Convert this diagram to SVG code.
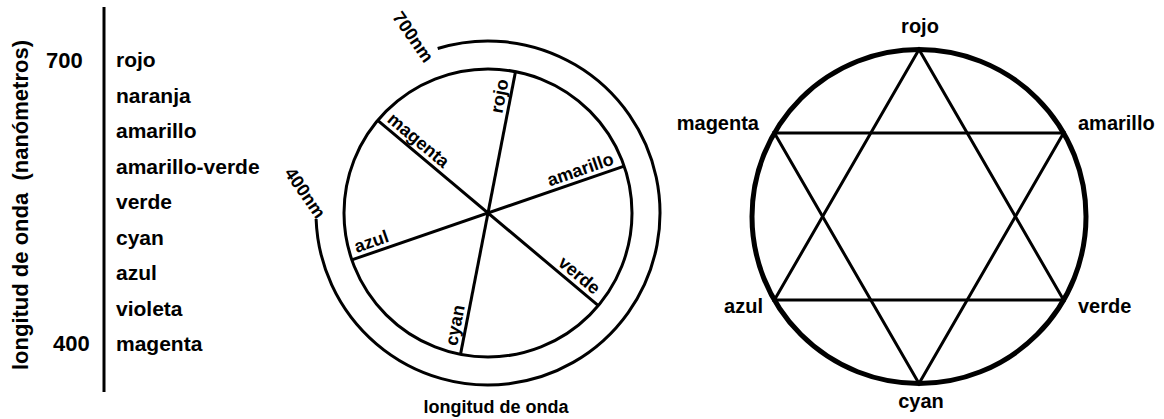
<svg xmlns="http://www.w3.org/2000/svg" width="1164" height="419" viewBox="0 0 1164 419">
<style>
text{font-family:"Liberation Sans",Arial,sans-serif;font-weight:bold;fill:#000}
.l{font-size:21px}
.n{font-size:22px}
.s{font-size:18px}
.r{font-size:20px}
.ln{fill:none;stroke:#000;stroke-width:3}
.thick{fill:none;stroke:#000;stroke-width:5}
</style>
<rect width="1164" height="419" fill="#fff"/>
<g id="scale">
<line class="ln" x1="104" y1="7" x2="104" y2="392"/>
<text class="n" transform="translate(28 370) rotate(-90)" xml:space="preserve">longitud de onda  (nanómetros)</text>
<text class="n" x="46" y="68">700</text>
<text class="n" x="53" y="351">400</text>
<text class="l" x="116" y="67">rojo</text>
<text class="l" x="116" y="102.5">naranja</text>
<text class="l" x="116" y="138">amarillo</text>
<text class="l" x="116" y="173.5">amarillo-verde</text>
<text class="l" x="116" y="209">verde</text>
<text class="l" x="116" y="244.5">cyan</text>
<text class="l" x="116" y="280">azul</text>
<text class="l" x="116" y="315.5">violeta</text>
<text class="l" x="116" y="351">magenta</text>
</g>
<g id="wheel">
<circle class="ln" cx="488" cy="213" r="144"/>
<path class="ln" d="M437.7,48.5 A172,172 0 1 1 316.1,219"/>
<g id="spokes">
<line class="ln" x1="515.5" y1="71.6" x2="460.5" y2="354.4"/>
<line class="ln" x1="624.2" y1="166.1" x2="351.8" y2="259.9"/>
<line class="ln" x1="598.3" y1="305.6" x2="377.7" y2="120.4"/>
</g>
<g transform="translate(488 213)">
<text class="s" transform="rotate(-79)" x="134" y="-5" text-anchor="end">rojo</text>
<text class="s" transform="rotate(-19)" x="136" y="-5" text-anchor="end">amarillo</text>
<text class="s" transform="rotate(40)" x="134" y="-5" text-anchor="end">verde</text>
<text class="s" transform="rotate(40)" x="-137" y="-5">magenta</text>
<text class="s" transform="rotate(-19)" x="-137" y="-5">azul</text>
<text class="s" transform="rotate(-79)" x="-137" y="-5">cyan</text>
</g>
<text class="s" transform="translate(413 37) rotate(55)" text-anchor="middle" y="6">700nm</text>
<text class="s" transform="translate(305 193) rotate(55)" text-anchor="middle" y="6">400nm</text>
<text class="s" x="496" y="413" text-anchor="middle">longitud de onda</text>
</g>
<g id="hexagram">
<circle class="thick" cx="919" cy="216.5" r="167"/>
<polygon class="ln" points="919,49.5 1063.6,300 774.4,300"/>
<polygon class="ln" points="919,383.5 774.4,133 1063.6,133"/>
<text class="r" x="920" y="33" text-anchor="middle">rojo</text>
<text class="r" x="759" y="130" text-anchor="end">magenta</text>
<text class="r" x="1078" y="130">amarillo</text>
<text class="r" x="763" y="313" text-anchor="end">azul</text>
<text class="r" x="1078" y="313">verde</text>
<text class="r" x="921" y="408" text-anchor="middle">cyan</text>
</g>
</svg>
